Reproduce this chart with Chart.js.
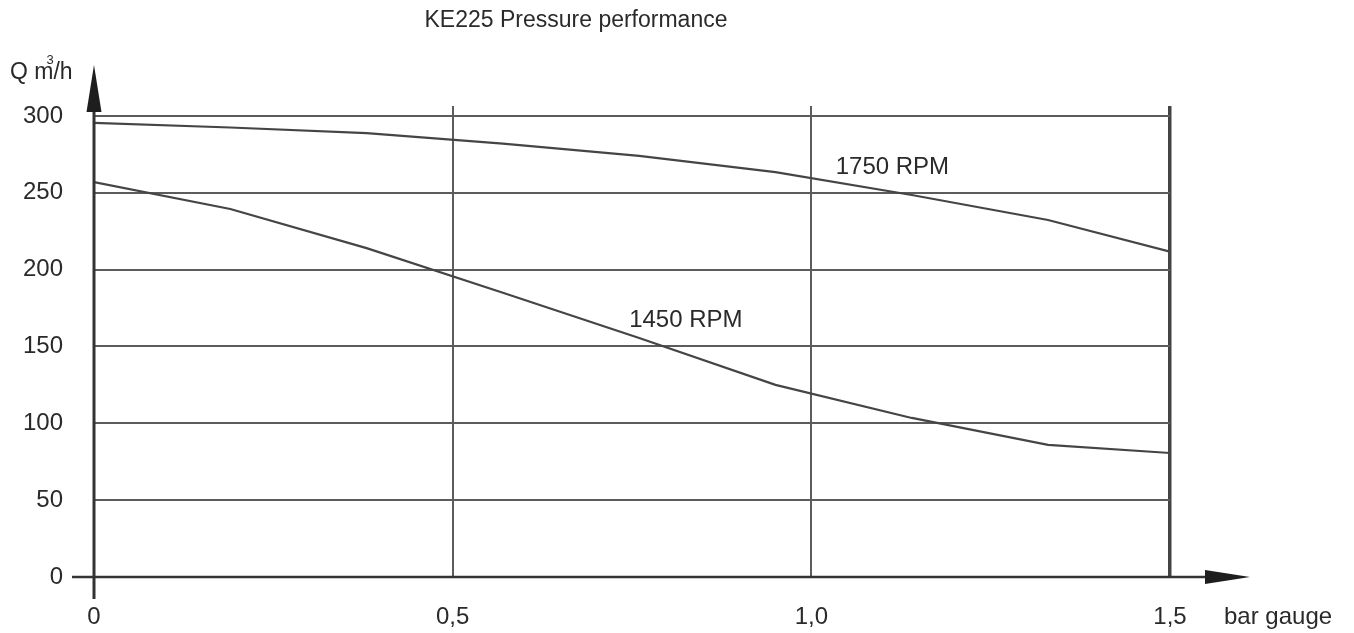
<!DOCTYPE html>
<html lang="en">
<head>
    <meta charset="UTF-8">
    <title>KE225 Pressure performance</title>
    <script src="https://cdn.jsdelivr.net/npm/chart.js"></script>
    <style>
        body {
            margin: 0;
            background: #fff;
        }
        #perfChart {
            display: block;
        }
    </style>
</head>
<body>

<canvas id="perfChart" width="1354" height="633"></canvas>

<script>
    // Pump curve readings: pressure (bar gauge) against flow (m3/h)
    const pressure = [0, 0.19, 0.38, 0.57, 0.76, 0.95, 1.14, 1.33, 1.5];
    const flow1750 = [295.5, 292.5, 288.8, 282, 274, 263.5, 248.6, 232.3, 211.7];
    const flow1450 = [257, 239.5, 214, 185, 155.5, 125, 103.5, 86, 80.7];
    const yTicks = [0, 50, 100, 150, 200, 250, 300];
    const xTicks = [0, 0.5, 1.0, 1.5];

    const FONT = '"Liberation Sans", Arial, Helvetica, sans-serif';
    const INK = '#2a2a2a';
    const LINE = '#454545';
    const GRID = '#5c5c5c';

    // where the speed labels sit, in chart units
    const speedLabels = [
        { text: '1750 RPM', x: 1.034, y: 262 },
        { text: '1450 RPM', x: 0.746, y: 162.5 }
    ];

    function toPoints(xs, ys) {
        return xs.map((x, i) => ({ x: x, y: ys[i] }));
    }

    // axis lines with arrow heads, the title and the loose labels
    const decorations = {
        id: 'decorations',
        afterDraw(chart) {
            const ctx = chart.ctx;
            const xs = chart.scales.x;
            const ys = chart.scales.y;
            const x0 = xs.getPixelForValue(0);
            const y0 = ys.getPixelForValue(0);

            ctx.save();
            ctx.strokeStyle = '#333';
            ctx.fillStyle = '#1e1e1e';

            // vertical axis
            ctx.lineWidth = 3;
            ctx.beginPath();
            ctx.moveTo(x0, 599);
            ctx.lineTo(x0, 100);
            ctx.stroke();
            ctx.beginPath();
            ctx.moveTo(x0, 65);
            ctx.lineTo(x0 + 7.5, 112);
            ctx.lineTo(x0 - 7.5, 112);
            ctx.closePath();
            ctx.fill();

            // horizontal axis
            ctx.lineWidth = 2.5;
            ctx.beginPath();
            ctx.moveTo(72, y0);
            ctx.lineTo(1215, y0);
            ctx.stroke();
            ctx.beginPath();
            ctx.moveTo(1250, y0);
            ctx.lineTo(1205, y0 - 7);
            ctx.lineTo(1205, y0 + 7);
            ctx.closePath();
            ctx.fill();

            ctx.fillStyle = INK;
            ctx.textBaseline = 'alphabetic';

            // title
            ctx.font = '23px ' + FONT;
            ctx.textAlign = 'center';
            ctx.fillText('KE225 Pressure performance', 576, 27);

            // axis names
            ctx.font = '23px ' + FONT;
            ctx.textAlign = 'left';
            ctx.fillText('Q m', 10, 79);
            const qw = ctx.measureText('Q m').width;
            ctx.fillText('/h', 10 + qw, 79);
            ctx.font = '13px ' + FONT;
            ctx.fillText('3', 10 + qw - 7, 64);

            ctx.font = '24px ' + FONT;
            ctx.fillText('bar gauge', 1224, 624);

            // speed labels
            speedLabels.forEach(l => {
                ctx.fillText(l.text, xs.getPixelForValue(l.x), ys.getPixelForValue(l.y));
            });
            ctx.restore();
        }
    };

    function createChart() {
        const ctx = document.getElementById('perfChart').getContext('2d');
        new Chart(ctx, {
            type: 'line',
            data: {
                datasets: [
                    {
                        label: '1750 RPM',
                        data: toPoints(pressure, flow1750),
                        borderColor: LINE,
                        borderWidth: 2.2,
                        pointRadius: 0,
                        tension: 0,
                        fill: false
                    },
                    {
                        label: '1450 RPM',
                        data: toPoints(pressure, flow1450),
                        borderColor: LINE,
                        borderWidth: 2.2,
                        pointRadius: 0,
                        tension: 0,
                        fill: false
                    }
                ]
            },
            options: {
                responsive: false,
                animation: false,
                events: [],
                layout: {
                    padding: { top: 106, right: 184, left: 0, bottom: 0 }
                },
                scales: {
                    x: {
                        type: 'linear',
                        min: 0,
                        max: 1.5,
                        afterBuildTicks: s => { s.ticks = xTicks.map(v => ({ value: v })); },
                        afterFit: s => { s.height = 56; },
                        border: { display: false },
                        grid: {
                            drawTicks: false,
                            color: c => c.tick && c.tick.value === 0 ? 'rgba(0,0,0,0)'
                                : (c.tick && c.tick.value === 1.5 ? '#444' : GRID),
                            lineWidth: c => c.tick && c.tick.value === 1.5 ? 3.5 : 2
                        },
                        ticks: {
                            padding: 26,
                            color: INK,
                            font: { family: FONT, size: 24 },
                            maxRotation: 0,
                            callback: v => v === 0 ? '0' : v.toFixed(1).replace('.', ',')
                        }
                    },
                    y: {
                        min: 0,
                        max: 306.5,
                        afterBuildTicks: s => { s.ticks = yTicks.map(v => ({ value: v })); },
                        afterFit: s => { s.width = 94; },
                        border: { display: false },
                        grid: {
                            drawTicks: false,
                            color: c => c.tick && c.tick.value === 0 ? 'rgba(0,0,0,0)' : GRID,
                            lineWidth: 2
                        },
                        ticks: {
                            padding: 31,
                            color: INK,
                            font: { family: FONT, size: 24 }
                        }
                    }
                },
                plugins: {
                    legend: { display: false },
                    tooltip: { enabled: false },
                    title: { display: false }
                }
            },
            plugins: [decorations]
        });
    }

    window.onload = createChart;
</script>

</body>
</html>
